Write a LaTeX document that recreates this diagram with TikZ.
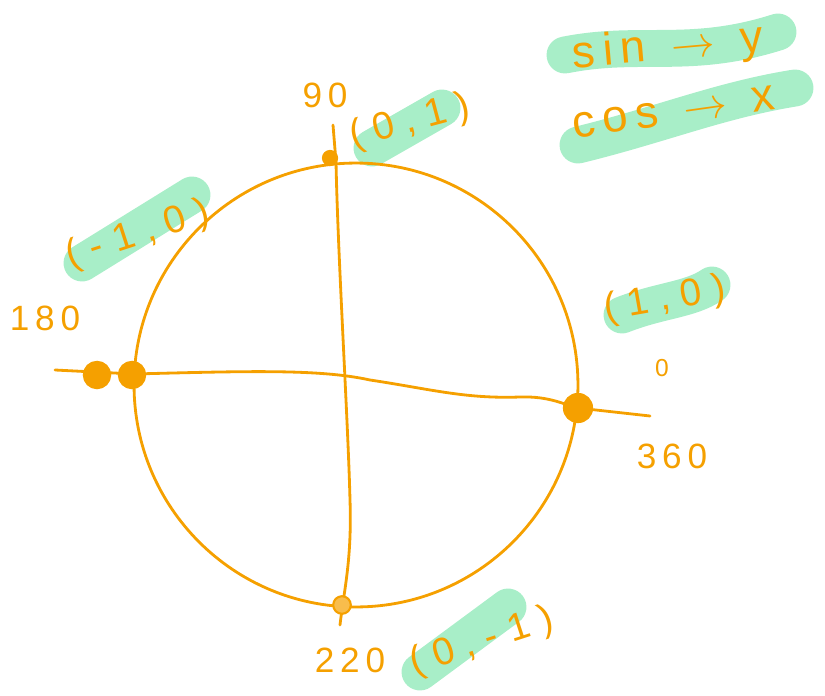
\documentclass[tikz,border=0pt]{standalone}
\usepackage{fontspec}
\setmainfont{Liberation Sans}
\definecolor{pen}{RGB}{245,160,0}
\definecolor{marker}{RGB}{168,238,200}
\begin{document}
\begin{tikzpicture}[x=0.02cm,y=-0.02cm,
  ink/.style={draw=pen,line width=1.6pt,line cap=round,line join=round},
  hl/.style={draw=marker,line width=21pt,line cap=round},
  lbl/.style={text=pen,font=\fontsize{20}{24}\selectfont,inner sep=1pt},
  pair/.style={lbl,font=\fontsize{22}{26}\selectfont},
  dot/.style={circle,draw=pen,fill=pen,line width=1.2pt,inner sep=0pt,minimum size=#1}]
  \useasboundingbox (0,0) rectangle (825,696);
  % highlighter strokes
  \coordinate (sinA) at (565,55);  \coordinate (sinB) at (778,32);
  \coordinate (cosA) at (578,145); \coordinate (cosB) at (795,88);
  \coordinate (mA) at (82,263);   \coordinate (mB) at (192,195);
  \coordinate (tA) at (372,148);  \coordinate (tB) at (442,108);
  \coordinate (rA) at (622,315);  \coordinate (rB) at (712,285);
  \coordinate (bA) at (420,672);  \coordinate (bB) at (508,607);
  \draw[hl] (sinA) .. controls (640,40) and (690,60) .. (sinB);
  \draw[hl] (cosA) .. controls (660,125) and (720,100) .. (cosB);
  \draw[hl] (mA) -- (mB);
  \draw[hl] (tA) -- (tB);
  \draw[hl] (rA) .. controls (660,300) and (690,300) .. (rB);
  \draw[hl] (bA) -- (bB);
  % circle and axes
  \node[circle,ink,minimum size=8.88cm,inner sep=0pt] (unit) at (356,385) {};
  \coordinate (hL) at (55,370);
  \coordinate (hR) at (650,416);
  \coordinate (vT) at (333,125);
  \coordinate (vB) at (340,625);
  \draw[ink] (hL) -- (134,374) .. controls (250,371) and (320,369) .. (370,380)
    .. controls (430,389) and (465,399) .. (520,397)
    .. controls (550,396) and (565,405) .. (578,408) -- (hR);
  \draw[ink] (vT) -- (336,162) .. controls (338,260) and (348,420) .. (350,500)
    .. controls (352,560) and (344,590) .. (vB);
  % points on the circle
  \node[dot=15pt] (p180a) at (97,375) {};
  \node[dot=15pt] (p180b) at (132,375) {};
  \node[dot=16pt] (p360) at (578,408) {};
  \node[dot=10pt,fill=pen!70] (p270) at (342,605) {};
  \node[dot=8pt] (p90) at (330,158) {};
  % labels
  \node[lbl,font=\fontsize{26}{30}\selectfont,rotate=5] (sin) at (668,48) {s\,i\,n\ \ $\rightarrow$\ \ y};
  \node[lbl,font=\fontsize{26}{30}\selectfont,rotate=8] (cos) at (674,112) {c\,o\,s\ \ $\rightarrow$\ \ x};
  \node[lbl] (l90) at (325,95) {9\,0};
  \node[pair,rotate=15] (c90) at (410,122) {(\ 0\ ,\ 1\ )};
  \node[pair,rotate=18] (c180) at (138,235) {(\ -\,\,1\ ,\ 0\ )};
  \node[lbl] (l180) at (45,318) {1\,8\,0};
  \node[pair,rotate=10] (c360) at (665,300) {(\ 1\ ,\ 0\ )};
  \node[lbl,font=\fontsize{14}{16}\selectfont] (z360) at (662,368) {0};
  \node[lbl] (l360) at (672,456) {3\,6\,0};
  \node[lbl] (l270) at (350,660) {2\,2\,0};
  \node[pair,rotate=18] (c270) at (482,642) {(\ 0\ ,\ -\,\,1\ )};
\end{tikzpicture}
\end{document}
